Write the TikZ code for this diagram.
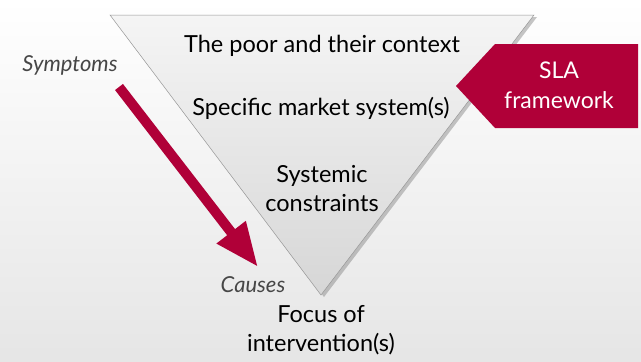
\documentclass[tikz,border=0pt]{standalone}
\usepackage{fontspec}
\setmainfont{Lato}
\usetikzlibrary{arrows.meta,positioning,shadows}
\definecolor{slared}{RGB}{176,0,56}
\definecolor{notegray}{RGB}{70,70,70}
\definecolor{edgegray}{RGB}{150,150,150}
\tikzset{
  levellabel/.style={font=\fontsize{23.5}{29}\selectfont,text=black,align=center,inner sep=1pt},
  sidenote/.style={font=\fontsize{22}{26}\selectfont\itshape,text=notegray,inner sep=1pt},
  frametext/.style={font=\fontsize{23}{30}\selectfont,text=white,align=center,inner sep=1pt},
  causearrow/.style={-{Triangle[length=44pt,width=34pt]},line width=10pt,draw=slared},
  funnel/.style={draw=edgegray,line width=0.5pt,top color=black!4,bottom color=black!16,
    drop shadow={shadow xshift=3pt,shadow yshift=-2pt,opacity=0.45}}
}
\begin{document}
\begin{tikzpicture}[x=1pt,y=-1pt]
  % background
  \fill[top color=white,bottom color=black!10] (0,0) rectangle (641,362);
  \useasboundingbox (0,0) rectangle (641,362);
  % funnel
  \coordinate (tl) at (110,15);
  \coordinate (tr) at (534,15);
  \coordinate (apex) at (321,295);
  \path[funnel] (tl) -- (tr) -- (apex) -- cycle;
  % levels
  \node[levellabel] (poor) at (322,46) {The poor and their context};
  \node[levellabel] (market) at (321,108) {Specific market system(s)};
  \node[levellabel] (constr) at (322,189) {Systemic\\constraints};
  \node[levellabel] (focus) at (321,330) {Focus of\\intervention(s)};
  % SLA framework
  \coordinate (tip) at (456,86);
  \coordinate (ftop) at (495,44);
  \coordinate (fbot) at (495,128);
  \fill[slared] (tip) -- (ftop) -- (638,44) -- (638,128) -- (fbot) -- cycle;
  \node[frametext] (sla) at (559,85) {SLA\\framework};
  % symptoms to causes
  \node[sidenote] (sympt) at (70,65) {Symptoms};
  \node[sidenote] (causes) at (253,285) {Causes};
  \coordinate (astart) at (119,87);
  \coordinate (aend) at (258,267);
  \draw[causearrow] (astart) -- (aend);
\end{tikzpicture}
\end{document}
